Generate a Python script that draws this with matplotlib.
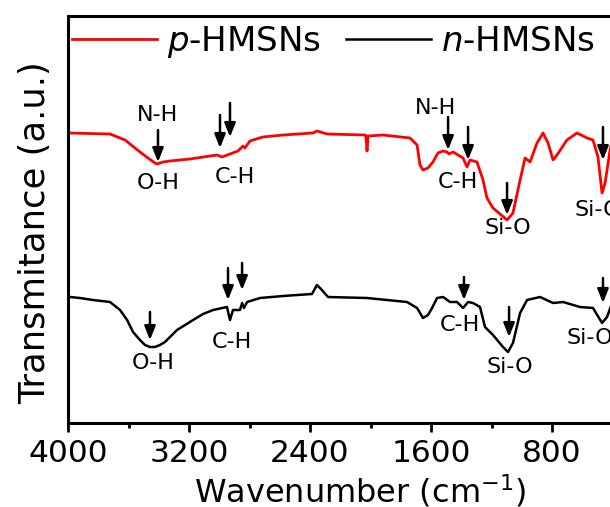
import matplotlib
matplotlib.use("Agg")
import matplotlib.pyplot as plt
from matplotlib.ticker import MultipleLocator

plt.rcParams["font.family"] = ["DejaVu Sans"]
plt.rcParams["mathtext.fontset"] = "dejavusans"

# p-HMSNs spectrum (wavenumber, transmittance a.u.)
p_wn = [4000, 3722, 3623, 3524, 3471, 3425, 3412, 3372, 3326, 3193, 3015, 2982,
        2929, 2876, 2843, 2830, 2797, 2711, 2578, 2380, 2354, 2288, 2036, 2030,
        2023, 2016, 1917, 1739, 1692, 1673, 1653, 1620, 1587, 1554, 1520, 1494,
        1481, 1454, 1388, 1362, 1342, 1296, 1256, 1230, 1190, 1144, 1097, 1058,
        1011, 978, 945, 899, 859, 826, 793, 767, 701, 635, 568, 529, 496, 469,
        449, 416, 403]
p_tr = [290, 289, 283, 271, 265, 260, 259, 261, 262, 264, 268, 266,
        269, 272, 277, 275, 282, 286, 288, 290, 292, 289, 288, 287,
        272, 287, 288, 285, 278, 258, 253, 255, 261, 270, 272, 271,
        269, 271, 265, 256, 263, 261, 243, 225, 215, 209, 203, 210,
        243, 265, 261, 280, 290, 280, 263, 268, 283, 290, 285, 283, 266, 230,
        240, 273, 283]

# n-HMSNs spectrum
n_wn = [3987, 3921, 3835, 3722, 3656, 3609, 3570, 3524, 3491, 3458, 3425, 3392,
        3359, 3279, 3226, 3173, 3107, 3041, 2949, 2929, 2909, 2863, 2849, 2836,
        2816, 2730, 2578, 2387, 2354, 2321, 2281, 2023, 1759, 1692, 1653, 1620,
        1593, 1560, 1520, 1474, 1428, 1388, 1355, 1322, 1276, 1243, 1190, 1124,
        1091, 1058, 1011, 965, 879, 793, 727, 615, 529, 469, 436, 403]
n_tr = [126, 125, 123, 121, 113, 103, 91, 83, 78, 76, 76, 78,
        81, 93, 98, 103, 109, 113, 116, 103, 113, 113, 120, 115,
        121, 125, 127, 129, 138, 133, 126, 125, 121, 115, 105, 108,
        115, 125, 126, 121, 121, 115, 121, 120, 116, 96, 88, 76,
        71, 80, 110, 123, 126, 120, 121, 116, 115, 100, 106, 120]

# band labels: (text, wavenumber, level, alignment)
labels = [("N-H", 3405, 308, "center"), ("O-H", 3405, 240, "center"),
          ("C-H", 2896, 246, "center"), ("N-H", 1573, 315, "center"),
          ("C-H", 1421, 241, "center"), ("Si-O", 1091, 195, "center"),
          ("Si-O", 648, 213, "left"),
          ("O-H", 3438, 60, "center"), ("C-H", 2916, 81, "center"),
          ("C-H", 1408, 98, "center"), ("Si-O", 1077, 56, "center"),
          ("Si-O", 701, 85, "left")]
# arrows: (wavenumber, start level, end level)
arrows = [(3405, 293, 261), (2995, 308, 275), (2929, 320, 286),
          (1487, 306, 273), (1355, 296, 263), (1097, 240, 208), (463, 296, 263),
          (3458, 111, 83), (2942, 155, 123), (2849, 160, 133),
          (1382, 146, 123), (1084, 116, 86), (463, 145, 120)]

fig = plt.figure(figsize=(6.1, 5.07), dpi=100)
ax = fig.add_axes([68 / 610, 84 / 507, 544.5 / 610, 407 / 507])

ax.plot(p_wn, p_tr, color="#ff0000", lw=2.0, label="$p$-HMSNs")
ax.plot(n_wn, n_tr, color="black", lw=1.8, label="$n$-HMSNs")

for txt, x, y, ha in labels:
    ax.text(x, y, txt, fontsize=16, ha=ha, va="center")
for x, y0, y1 in arrows:
    ax.annotate("", xy=(x, y1), xytext=(x, y0),
                arrowprops=dict(arrowstyle="-|>,head_length=0.75,head_width=0.3",
                                lw=1.8, color="black", shrinkA=0, shrinkB=0,
                                mutation_scale=11))

ax.set_xlim(4000, 400)
ax.set_ylim(0, 407)
ax.xaxis.set_minor_locator(MultipleLocator(400))
ax.set_xticks([4000, 3200, 2400, 1600, 800])
ax.set_yticks([])
ax.tick_params(axis="x", which="major", direction="out", length=6.5, width=2,
               labelsize=22.5, pad=5)
ax.tick_params(axis="x", which="minor", direction="out", length=3.5, width=2)
for s in ax.spines.values():
    s.set_linewidth(2.2)

ax.set_xlabel("Wavenumber (cm$^{-1}$)", fontsize=23)
ax.xaxis.set_label_coords(292 / 544.5, -0.123)
ax.set_ylabel("Transmitance (a.u.)", fontsize=25.5)
ax.yaxis.set_label_coords(-16 / 544.5, 0.467)

ax.legend(loc="upper left", bbox_to_anchor=(-0.03, 1.03), ncol=2, frameon=False,
          fontsize=24.5, handlelength=2.5, handletextpad=0.28, columnspacing=0.75,
          borderaxespad=0.2)

fig.savefig("out.png", dpi=100)
